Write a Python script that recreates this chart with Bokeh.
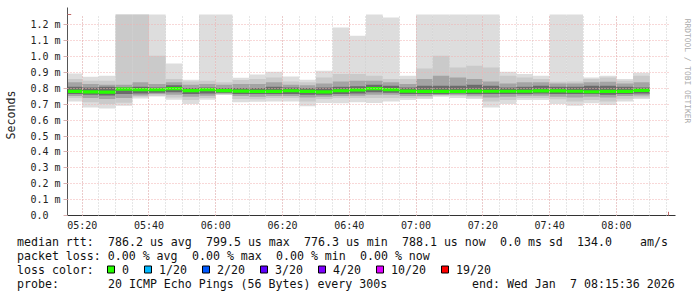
import math
import re
import pandas as pd
from datetime import datetime, timedelta
from bokeh.plotting import figure
from bokeh.layouts import column, row
from bokeh.models import (Range1d, FixedTicker, DatetimeTickFormatter, CustomJSTickFormatter,
                          Arrow, NormalHead)
from bokeh.core.properties import value
from bokeh.embed import file_html
from bokeh.resources import INLINE

# ---------------- data (milliseconds) ----------------
END = datetime(2026, 1, 7, 8, 15, 36)
START = END - timedelta(hours=3)
bar_end = pd.date_range("2026-01-07 05:20", "2026-01-07 08:10", freq="5min")  # 35 intervals

max_ms = [0.894, 0.873, 0.879, 1.30, 1.30, 1.30, 0.957, 0.854, 1.30, 1.30, 0.867, 0.888,
          0.905, 0.875, 0.854, 0.911, 1.183, 1.131, 1.30, 1.246, 0.879, 1.30, 1.30, 1.30,
          1.30, 1.30, 0.905, 0.890, 0.879, 1.30, 1.30, 0.869, 0.879, 0.859, 0.898]
hi2_ms = [0.859, 0.848, 0.848, 1.30, 1.30, 1.005, 0.859, 0.844, 0.848, 0.838, 0.852, 0.859,
          0.869, 0.844, 0.838, 0.869, 0.890, 0.890, 0.879, 0.859, 0.859, 0.925, 1.005, 0.932,
          0.942, 0.932, 0.879, 0.869, 0.859, 0.842, 0.844, 0.859, 0.869, 0.848, 0.879]
hi3_ms = [0.838, 0.827, 0.823, 0.823, 0.838, 0.827, 0.838, 0.823, 0.827, 0.823, 0.827, 0.827,
          0.838, 0.823, 0.819, 0.831, 0.844, 0.848, 0.848, 0.838, 0.827, 0.859, 0.879, 0.869,
          0.859, 0.844, 0.831, 0.838, 0.838, 0.831, 0.831, 0.838, 0.842, 0.831, 0.838]
hi4_ms = [0.810, 0.806, 0.810, 0.806, 0.810, 0.806, 0.819, 0.802, 0.806, 0.802, 0.802, 0.802,
          0.810, 0.806, 0.802, 0.806, 0.810, 0.814, 0.823, 0.817, 0.806, 0.817, 0.817, 0.817,
          0.823, 0.817, 0.806, 0.810, 0.817, 0.810, 0.810, 0.817, 0.817, 0.810, 0.806]
median_ms = [0.781, 0.778, 0.777, 0.795, 0.792, 0.792, 0.799, 0.786, 0.792, 0.786, 0.783, 0.781,
             0.781, 0.785, 0.781, 0.778, 0.785, 0.790, 0.799, 0.792, 0.783, 0.781, 0.781, 0.781,
             0.783, 0.782, 0.782, 0.782, 0.784, 0.784, 0.782, 0.779, 0.781, 0.781, 0.788]
lo4_ms = [0.764, 0.760, 0.756, 0.764, 0.768, 0.773, 0.775, 0.764, 0.768, 0.773, 0.764, 0.764,
          0.764, 0.764, 0.760, 0.760, 0.764, 0.768, 0.775, 0.773, 0.764, 0.764, 0.764, 0.768,
          0.764, 0.764, 0.764, 0.764, 0.768, 0.764, 0.764, 0.764, 0.760, 0.764, 0.768]
lo3_ms = [0.752, 0.739, 0.733, 0.739, 0.756, 0.764, 0.760, 0.747, 0.754, 0.766, 0.752, 0.747,
          0.752, 0.752, 0.743, 0.747, 0.752, 0.754, 0.760, 0.760, 0.752, 0.752, 0.758, 0.760,
          0.754, 0.743, 0.747, 0.754, 0.754, 0.747, 0.743, 0.747, 0.743, 0.752, 0.756]
lo2_ms = [0.739, 0.712, 0.701, 0.710, 0.747, 0.754, 0.743, 0.727, 0.739, 0.762, 0.733, 0.731,
          0.739, 0.739, 0.718, 0.733, 0.739, 0.739, 0.739, 0.739, 0.739, 0.743, 0.754, 0.752,
          0.743, 0.718, 0.727, 0.739, 0.739, 0.731, 0.718, 0.727, 0.718, 0.735, 0.743]
min_ms = [0.718, 0.680, 0.674, 0.691, 0.737, 0.749, 0.729, 0.701, 0.729, 0.758, 0.712, 0.716,
          0.718, 0.718, 0.687, 0.708, 0.706, 0.712, 0.708, 0.718, 0.727, 0.733, 0.747, 0.739,
          0.733, 0.680, 0.701, 0.727, 0.727, 0.701, 0.691, 0.706, 0.695, 0.718, 0.733]

y_ticks = [0.0, 0.1, 0.2, 0.3, 0.4, 0.5, 0.6, 0.7, 0.8, 0.9, 1.0, 1.1, 1.2]
x_major = pd.date_range("2026-01-07 05:20", "2026-01-07 08:00", freq="20min")
x_minor = pd.date_range("2026-01-07 05:20", "2026-01-07 08:15", freq="5min")

legend_lines = [
    "median rtt:  786.2 us avg  799.5 us max  776.3 us min  788.1 us now  0.0 ms sd  134.0    am/s",
    "packet loss: 0.00 % avg  0.00 % max  0.00 % min  0.00 % now",
    None,
    "probe:       20 ICMP Echo Pings (56 Bytes) every 300s            end: Wed Jan  7 08:15:36 2026",
]
loss_labels = ["0", "1/20", "2/20", "3/20", "4/20", "10/20", "19/20"]
loss_colors = ["#26ff00", "#00b8ff", "#0059ff", "#5e00ff", "#7e00ff", "#dd00ff", "#ff0000"]
watermark = "RRDTOOL / TOBI OETIKER"

# ---------------- layout constants (pixels) ----------------
W, H = 697, 297
MAIN_W, MAIN_H = 680, 235
FL, FR, FT, FB = 67, 668, 14, 215
MONO = "DejaVu Sans Mono"

def bare(fig):
    fig.outline_line_color = None
    fig.background_fill_color = "white"
    fig.border_fill_color = "white"
    fig.grid.visible = False
    return fig

# ---------------- main plot ----------------
p = figure(width=MAIN_W, height=MAIN_H, output_backend="svg", toolbar_location=None,
           x_axis_type="datetime",
           x_range=Range1d(START, END), y_range=Range1d(0, 1.265),
           min_border_left=FL, min_border_right=MAIN_W - FR, min_border_top=FT,
           min_border_bottom=MAIN_H - FB)
p.outline_line_color = None
p.background_fill_color = "white"
p.border_fill_color = "white"

left = bar_end - pd.Timedelta(minutes=5)
right = bar_end
layers = [
    (min_ms, max_ms, "#dddddd"),
    (lo2_ms, hi2_ms, "#cacaca"),
    (lo3_ms, hi3_ms, "#a4a4a4"),
    (lo4_ms, hi4_ms, "#6b6b6b"),
]
for lo, hi, col in layers:
    p.quad(left=left, right=right, bottom=lo, top=hi, fill_color=col, line_color=None)

half = 0.01
p.quad(left=left, right=right,
       bottom=[m - half for m in median_ms], top=[m + half for m in median_ms],
       fill_color=loss_colors[0], line_color=None)

xa = p.xaxis[0]
xa.ticker = FixedTicker(ticks=[t.value // 10**6 for t in x_major],
                        minor_ticks=[t.value // 10**6 for t in x_minor])
xa.formatter = DatetimeTickFormatter(minutes="%H:%M", hourmin="%H:%M", hours="%H:%M",
                                     minsec="%H:%M", days="%H:%M")
xa.major_tick_out = 0
xa.major_tick_in = 0
xa.minor_tick_out = 0
xa.minor_tick_in = 0
xa.major_label_standoff = 4
xa.major_label_text_font = MONO
xa.major_label_text_font_size = "10px"
xa.major_label_text_color = "#222222"
xa.axis_line_color = "#333333"

ya = p.yaxis[0]
ya.ticker = FixedTicker(ticks=y_ticks, minor_ticks=[])
ya.formatter = CustomJSTickFormatter(code="return tick < 1e-9 ? '0.0\\u00a0\\u00a0' : tick.toFixed(1) + ' m';")
ya.major_tick_out = 4
ya.major_tick_in = 0
ya.minor_tick_out = 0
ya.minor_tick_in = 0
ya.major_tick_line_color = "#d8b0b0"
ya.major_label_standoff = 3
ya.major_label_text_font = MONO
ya.major_label_text_font_size = "10px"
ya.major_label_text_color = "#222222"
ya.axis_line_color = "#555555"
ya.axis_label = "Seconds"
ya.axis_label_text_font = MONO
ya.axis_label_text_font_size = "11.6px"
ya.axis_label_text_font_style = "normal"
ya.axis_label_text_color = "#222222"
ya.axis_label_standoff = 9

p.xgrid.grid_line_color = "#f0b0b0"
p.xgrid.grid_line_dash = "1 2"
p.xgrid.minor_grid_line_color = "#cccccc"
p.xgrid.minor_grid_line_dash = "1 2"
p.xgrid.level = "overlay"
p.ygrid.grid_line_color = "#f0b0b0"
p.ygrid.grid_line_dash = "1 2"
p.ygrid.level = "overlay"

p.add_layout(Arrow(end=NormalHead(size=7, fill_color="#a01818", line_color="#a01818"),
                   start_units="screen", end_units="screen",
                   x_start=0, y_start=FB - FT, x_end=0, y_end=FB - 7,
                   line_color="#555555", line_width=1))
p.add_layout(Arrow(end=NormalHead(size=7, fill_color="#a01818", line_color="#a01818"),
                   start_units="screen", end_units="screen",
                   x_start=FR - FL, y_start=0, x_end=FR - FL + 7, y_end=0,
                   line_color="#333333", line_width=1))

# ---------------- watermark strip (pixel coordinates of the strip) ----------------
WM_W = W - MAIN_W
wm = bare(figure(width=WM_W, height=MAIN_H, output_backend="svg", toolbar_location=None,
                 x_range=Range1d(0, WM_W), y_range=Range1d(0, MAIN_H),
                 x_axis_location=None, y_axis_location=None, min_border=0))
wm.text(x=[687 - MAIN_W], y=[MAIN_H - 5], text=[watermark], angle=-math.pi / 2,
        text_align="left", text_baseline="middle", text_font=value(MONO),
        text_font_size="7.9px", text_color="#aaaaaa")

# ---------------- legend strip (pixel coordinates of the strip, y up) ----------------
LEG_H = H - MAIN_H
leg = bare(figure(width=W, height=LEG_H, output_backend="svg", toolbar_location=None,
                  x_range=Range1d(0, W), y_range=Range1d(0, LEG_H),
                  x_axis_location=None, y_axis_location=None, min_border=0))

CW = 7.0
X0 = 16.5
line_y = [241, 255, 269, 283]          # canvas rows of the four text lines

def ly(cy):
    return H - cy

tx_x, tx_y, tx_s = [], [], []
for i, line in enumerate(legend_lines):
    if line is None:
        continue
    for m in re.finditer(r"\S+(?: \S+)*", line):
        tx_x.append(X0 + m.start() * CW)
        tx_y.append(ly(line_y[i]))
        tx_s.append(m.group(0))

tx_x.append(X0)
tx_y.append(ly(line_y[2]))
tx_s.append("loss color:")
bx = X0 + 13 * CW - 0.5
box_l, box_r = [], []
for lab in loss_labels:
    box_l.append(bx)
    box_r.append(bx + 7)
    tx = bx + 14.5
    tx_x.append(tx)
    tx_y.append(ly(line_y[2]))
    tx_s.append(lab)
    bx = tx + len(lab) * CW + 15.5

leg.text(x=tx_x, y=tx_y, text=tx_s, text_font=value(MONO), text_font_size="11.6px",
         text_color="#111111", text_baseline="middle", text_align="left")
leg.quad(left=box_l, right=box_r, top=ly(line_y[2] - 3.5), bottom=ly(line_y[2] + 3.5),
         fill_color=loss_colors, line_color="black", line_width=1)

layout = column(row(p, wm, spacing=0), leg, spacing=0)
open("out.html", "w").write(file_html(layout, INLINE))
